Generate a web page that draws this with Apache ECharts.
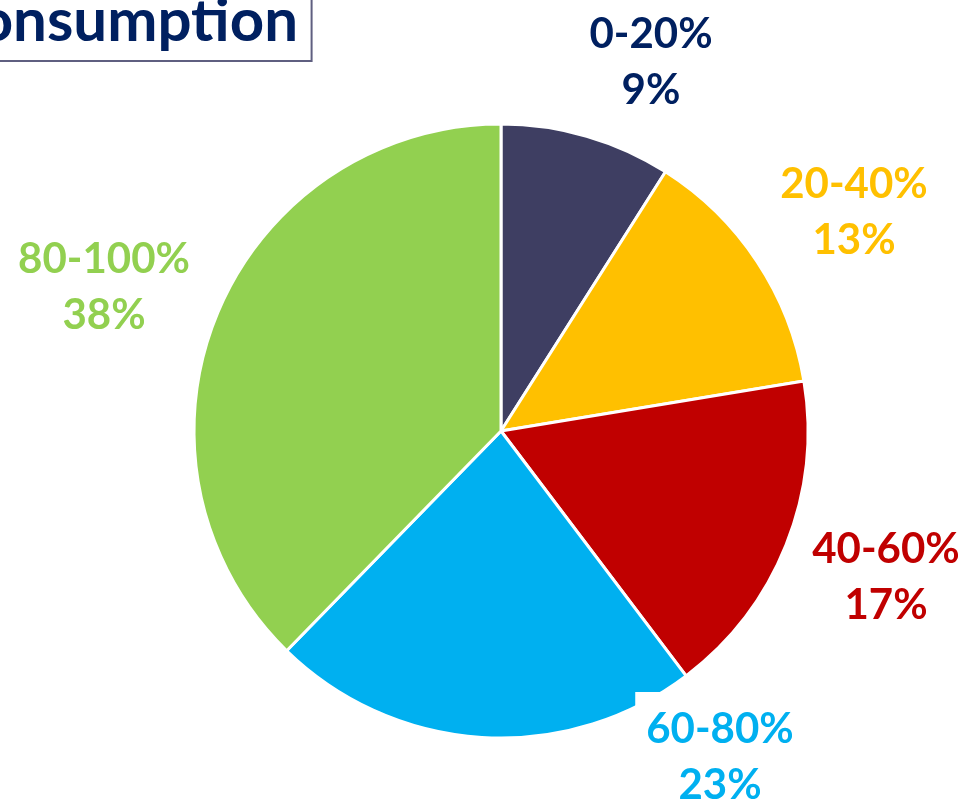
<!DOCTYPE html>
<html>
<head>
<meta charset="utf-8">
<script src="https://cdn.jsdelivr.net/npm/echarts@6/dist/echarts.min.js"></script>
<style>
  html, body { margin: 0; padding: 0; background: #fff; }
  #chart { width: 966px; height: 803px; }
</style>
</head>
<body>
<div id="chart"></div>
<script>
const titleText = 'Consumption'
const categories = ['0-20%', '20-40%', '40-60%', '60-80%', '80-100%']
const shares = [9.0, 13.4, 17.3, 22.6, 37.7]

const sliceColors = ['#3E3E62', '#FFC000', '#C00000', '#00B0F0', '#92D050']
const labelColors = ['#002060', '#FFC000', '#C00000', '#00B0F0', '#92D050']
// label block centres (px)
const labelSpots = [[651, 62], [854, 212], [886, 577], [720, 757], [104, 287]]

const chart = echarts.init(document.getElementById('chart'))

const option = {
  animation: false,
  title: {
    text: titleText,
    right: 654,
    top: -12,
    padding: [0, 14, 5, 14],
    borderColor: '#5F5F80',
    borderWidth: 2,
    textStyle: {
      fontFamily: 'Lato',
      fontWeight: 'bold',
      fontSize: 60,
      lineHeight: 68,
      color: '#002060'
    }
  },
  series: [{
    type: 'pie',
    center: [501, 431],
    radius: 307,
    startAngle: 90,
    clockwise: true,
    itemStyle: {
      borderColor: '#ffffff',
      borderWidth: 3
    },
    labelLine: { show: false },
    label: {
      show: true,
      position: 'outside',
      overflow: 'none',
      fontFamily: 'Lato',
      fontWeight: 'bold',
      fontSize: 42,
      lineHeight: 56,
      align: 'center',
      backgroundColor: '#ffffff',
      padding: [9, 11],
      formatter: function (p) {
        return p.name + '\n' + Math.round(p.value) + '%'
      }
    },
    labelLayout: function (params) {
      const spot = labelSpots[params.dataIndex]
      return {
        x: spot[0],
        y: spot[1],
        align: 'center',
        verticalAlign: 'middle'
      }
    },
    data: categories.map(function (name, i) {
      return {
        name: name,
        value: shares[i],
        itemStyle: { color: sliceColors[i] },
        label: { color: labelColors[i] }
      }
    })
  }]
}

chart.setOption(option)
</script>
</body>
</html>
